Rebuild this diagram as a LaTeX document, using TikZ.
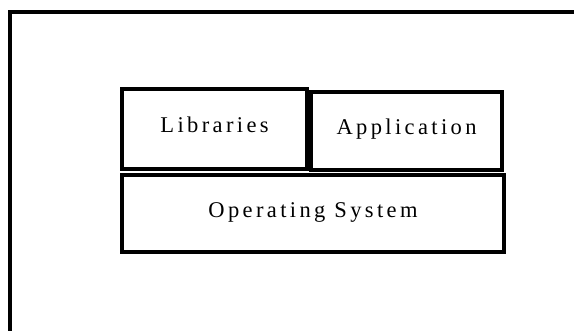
\documentclass[tikz,border=0pt]{standalone}
\usepackage{fontspec}
\setmainfont[LetterSpace=15]{Liberation Serif}
\begin{document}
\begin{tikzpicture}[x=1pt,y=1pt,line join=miter]
\tikzstyle{layer} = [draw,line width=4pt,inner sep=0pt,text height=15pt,text depth=7pt,font=\fontsize{22.5}{26}\selectfont]
\useasboundingbox (0,0) rectangle (574,331);
%cadre
\draw[line width=4pt] (10,-5)--(10,319)--(580,319);
%couches du système
\node[layer,minimum width=185pt,minimum height=80pt] (lib) at (214.5,202) {Libraries};
\node[layer,minimum width=191pt,minimum height=78pt] (app) at (406.5,200) {Application};
\node[layer,minimum width=382pt,minimum height=77pt] (os) at (313,117.5) {Operating System};
\end{tikzpicture}
\end{document}
